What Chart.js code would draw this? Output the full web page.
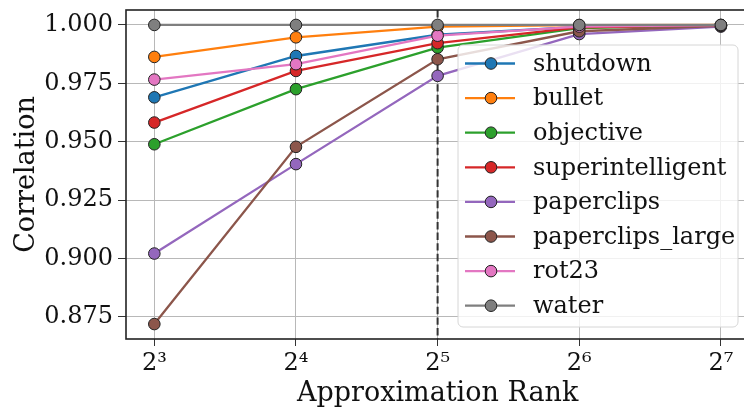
<!DOCTYPE html>
<html>
<head>
<meta charset="utf-8">
<script src="https://cdn.jsdelivr.net/npm/chart.js@4/dist/chart.umd.min.js"></script>
<style>
  html, body { margin: 0; padding: 0; background: #fff; overflow: hidden; }
  #wrap { width: 756px; height: 408px; }
</style>
</head>
<body>
<div id="wrap"><canvas id="chart" width="756" height="408"></canvas></div>
<script>
// approximation ranks (x axis, plotted on log2 scale)
const ranks = [8, 16, 32, 64, 128]
const xTicks = ['2³', '2⁴', '2⁵', '2⁶', '2⁷']
const yTicks = [0.875, 0.900, 0.925, 0.950, 0.975, 1.000]

// correlation per concept
const seriesNames = ['shutdown', 'bullet', 'objective', 'superintelligent', 'paperclips', 'paperclips_large', 'rot23', 'water']
const shutdown = [0.9690, 0.9867, 0.9958, 0.9992, 0.9998]
const bullet = [0.9863, 0.9947, 0.9993, 0.9999, 1.0000]
const objective = [0.9489, 0.9725, 0.9903, 0.9986, 0.9998]
const superintelligent = [0.9582, 0.9803, 0.9922, 0.9990, 0.9998]
const paperclips = [0.9021, 0.9404, 0.9782, 0.9961, 0.9993]
const paperclipsLarge = [0.8719, 0.9478, 0.9853, 0.9973, 0.9996]
const rot23 = [0.9766, 0.9832, 0.9954, 0.9993, 0.9999]
const water = [1.0000, 1.0000, 1.0000, 1.0000, 1.0000]
const allSeries = [shutdown, bullet, objective, superintelligent, paperclips, paperclipsLarge, rot23, water]

// matplotlib tab10
const colors = ['#1f77b4', '#ff7f0e', '#2ca02c', '#d62728', '#9467bd', '#8c564b', '#e377c2', '#7f7f7f']

const FONT = "'DejaVu Serif', serif"

function buildDatasets() {
    var sets = []
    for (let i = 0; i < seriesNames.length; i++) {
        sets.push({
            label: seriesNames[i],
            data: allSeries[i].map((v, j) => ({x: Math.log2(ranks[j]), y: v})),
            borderColor: colors[i],
            backgroundColor: colors[i],
            borderWidth: 2.3,
            pointRadius: 5.8,
            pointBorderWidth: 1,
            pointBorderColor: '#222',
            pointBackgroundColor: colors[i],
            tension: 0,
            order: seriesNames.length - i   // later series drawn on top, like matplotlib
        })
    }
    return sets
}

// dashed line at rank 2^5 + frame
const refLine = {
    id: 'refLine',
    beforeDatasetsDraw(chart) {
        const {ctx, chartArea, scales} = chart
        const x = scales.x.getPixelForValue(5)
        ctx.save()
        ctx.strokeStyle = '#333'
        ctx.lineWidth = 2
        ctx.setLineDash([7.4, 3.2])
        ctx.beginPath()
        ctx.moveTo(x, chartArea.top)
        ctx.lineTo(x, chartArea.bottom)
        ctx.stroke()
        ctx.restore()
    },
    afterDatasetsDraw(chart) {
        const {ctx, chartArea} = chart
        ctx.save()
        ctx.strokeStyle = '#222'
        ctx.lineWidth = 1.6
        ctx.strokeRect(chartArea.left, chartArea.top, chartArea.right - chartArea.left, chartArea.bottom - chartArea.top)
        ctx.restore()
    }
}

// matplotlib-like legend inside the axes
const innerLegend = {
    id: 'innerLegend',
    afterDraw(chart) {
        const {ctx, chartArea} = chart
        const sets = chart.data.datasets
        const boxL = chartArea.left + 332, boxT = chartArea.top + 35
        const boxW = 280, boxH = 282, rowH = 34.6
        ctx.save()
        ctx.globalAlpha = 0.8
        ctx.fillStyle = '#fff'
        ctx.beginPath()
        ctx.roundRect(boxL, boxT, boxW, boxH, 5)
        ctx.fill()
        ctx.globalAlpha = 1
        ctx.strokeStyle = '#d6d6d6'
        ctx.lineWidth = 1
        ctx.stroke()
        ctx.font = '24px ' + FONT
        ctx.textBaseline = 'middle'
        for (let i = 0; i < sets.length; i++) {
            const cy = boxT + 18.5 + i * rowH
            ctx.strokeStyle = sets[i].borderColor
            ctx.lineWidth = 2.3
            ctx.beginPath()
            ctx.moveTo(boxL + 7, cy)
            ctx.lineTo(boxL + 57, cy)
            ctx.stroke()
            ctx.beginPath()
            ctx.arc(boxL + 33, cy, 5.8, 0, Math.PI * 2)
            ctx.fillStyle = sets[i].pointBackgroundColor
            ctx.fill()
            ctx.strokeStyle = '#222'
            ctx.lineWidth = 1
            ctx.stroke()
            ctx.fillStyle = '#111'
            ctx.fillText(sets[i].label, boxL + 75, cy + 1)
        }
        ctx.restore()
    }
}

new Chart(document.getElementById('chart'), {
    type: 'line',
    data: { datasets: buildDatasets() },
    plugins: [refLine, innerLegend],
    options: {
        responsive: false,
        animation: false,
        layout: { padding: { top: 10, right: 4.5, left: 0, bottom: 0 } },
        plugins: { legend: { display: false }, tooltip: { enabled: false } },
        scales: {
            x: {
                type: 'linear',
                min: 2.8,
                max: 7.2,
                afterBuildTicks: function(scale) {
                    scale.ticks = ranks.map(r => ({value: Math.log2(r)}))
                },
                afterFit: function(scale) {
                    scale.height = 69
                    scale.paddingLeft = 0
                    scale.paddingRight = 0
                },
                ticks: {
                    callback: function(v) { return xTicks[ranks.indexOf(Math.pow(2, v))] },
                    color: '#111',
                    font: { family: FONT, size: 24 },
                    padding: 3,
                    maxRotation: 0
                },
                grid: { color: '#b8b8b8', lineWidth: 1, tickLength: 7, tickColor: '#333' },
                border: { display: false },
                title: {
                    display: true,
                    text: 'Approximation Rank',
                    color: '#111',
                    font: { family: FONT, size: 27, lineHeight: 1 },
                    padding: { top: 0, bottom: 1 }
                }
            },
            y: {
                min: 0.8655,
                max: 1.0064,
                afterBuildTicks: function(scale) {
                    scale.ticks = yTicks.map(v => ({value: v}))
                },
                afterFit: function(scale) {
                    scale.width = 126
                    scale.paddingTop = 0
                    scale.paddingBottom = 0
                },
                ticks: {
                    callback: function(v) { return v.toFixed(3) },
                    color: '#111',
                    font: { family: FONT, size: 24 },
                    padding: 5
                },
                grid: { color: '#b8b8b8', lineWidth: 1, tickLength: 8, tickColor: '#333' },
                border: { display: false },
                title: {
                    display: true,
                    text: 'Correlation',
                    color: '#111',
                    font: { family: FONT, size: 27, lineHeight: 1 },
                    padding: { top: 13, bottom: 0 }
                }
            }
        }
    }
})
</script>
</body>
</html>
